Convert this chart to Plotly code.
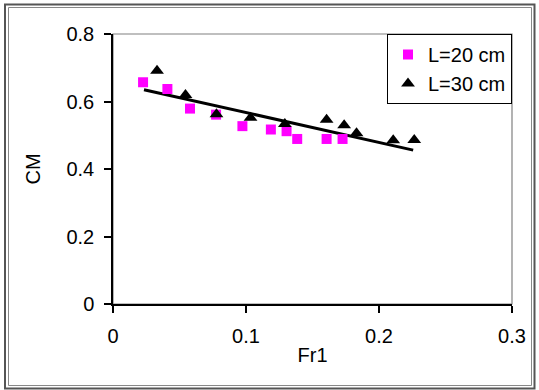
import plotly.graph_objects as go

# Measured points: Froude number Fr1 vs. coefficient CM
fr1_l20 = [0.0226, 0.0409, 0.0579, 0.0775, 0.0973, 0.1187, 0.1305, 0.1385, 0.1606, 0.1726]
cm_l20 = [0.657, 0.637, 0.579, 0.561, 0.527, 0.517, 0.512, 0.489, 0.489, 0.489]

fr1_l30 = [0.0331, 0.0545, 0.0778, 0.1034, 0.1292, 0.1606, 0.1738, 0.1831, 0.2107, 0.2265]
cm_l30 = [0.691, 0.619, 0.562, 0.552, 0.533, 0.546, 0.530, 0.506, 0.485, 0.486]

# Linear trend line end points
trend_fr1 = [0.0233, 0.2257]
trend_cm = [0.635, 0.456]

x_ticks = [0, 0.1, 0.2, 0.3]
y_ticks = [0, 0.2, 0.4, 0.6, 0.8]

FONT = "Liberation Sans, Arial, sans-serif"
FS = 20
W, H = 539, 390
L, R, T, B = 113, 27, 34, 86
PW, PH = W - L - R, H - T - B


def px_x(v):
    return (v - L) / PW


def px_y(v):
    return (H - B - v) / PH


fig = go.Figure()

fig.add_trace(go.Scatter(
    x=trend_fr1, y=trend_cm, mode="lines",
    line=dict(color="black", width=3),
    showlegend=False, hoverinfo="skip",
))

fig.add_trace(go.Scatter(
    x=fr1_l20, y=cm_l20, mode="markers", name="L=20 cm",
    legendgroup="a",
    marker=dict(symbol="square", size=10, color="#FF00FF"),
))

fig.add_trace(go.Scatter(
    x=fr1_l30, y=cm_l30, mode="markers", name="L=30 cm",
    legendgroup="b",
    marker=dict(symbol="triangle-up", size=12, color="black"),
))

axis_common = dict(
    showline=True, linecolor="black", linewidth=1.5,
    ticks="outside", ticklen=7, tickcolor="black", tickwidth=1.5,
    showgrid=False, zeroline=False,
    tickfont=dict(family=FONT, size=FS, color="black"),
)

fig.update_xaxes(
    range=[0, 0.3], tickvals=x_ticks, ticktext=[f"{v:g}" for v in x_ticks],
    ticklabelstandoff=6,
    title=dict(text="Fr1", font=dict(family=FONT, size=FS, color="black"), standoff=2),
    **axis_common,
)
fig.update_yaxes(
    range=[0, 0.8], tickvals=y_ticks, ticktext=[f"{v:g}" for v in y_ticks],
    ticklabelstandoff=6,
    title=dict(text="CM", font=dict(family=FONT, size=FS, color="black"), standoff=20),
    **axis_common,
)

shapes = [
    # plot area frame
    dict(type="rect", xref="paper", yref="paper", x0=0, y0=0, x1=1, y1=1,
         line=dict(color="#808080", width=1.2), layer="below"),
    # double border around the chart
    dict(type="rect", xref="paper", yref="paper",
         x0=px_x(5), x1=px_x(534.5), y0=px_y(388.5), y1=px_y(4.5),
         line=dict(color="#555555", width=2)),
    dict(type="rect", xref="paper", yref="paper",
         x0=px_x(8.5), x1=px_x(531.5), y0=px_y(385.5), y1=px_y(7.5),
         line=dict(color="#888888", width=1)),
]

fig.update_layout(
    width=W, height=H,
    margin=dict(l=L, r=R, t=T, b=B),
    paper_bgcolor="white", plot_bgcolor="white",
    font=dict(family=FONT, size=FS, color="black"),
    shapes=shapes,
    legend=dict(
        x=1.0, y=1.0, xanchor="right", yanchor="top",
        bgcolor="white", bordercolor="black", borderwidth=1,
        font=dict(family=FONT, size=FS, color="black"),
        tracegroupgap=0, itemwidth=30,
    ),
)

fig.write_html("out.html")
